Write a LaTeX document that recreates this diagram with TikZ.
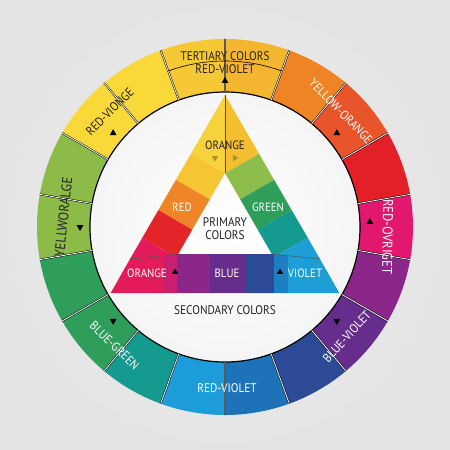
\documentclass[tikz,border=0pt]{standalone}
\usepackage{fontspec}
\setmainfont{PT Sans}[FakeStretch=0.9]
\usetikzlibrary{shapes.geometric}

% wheel colours
\definecolor{bgLight}{HTML}{F3F3F3}
\definecolor{bgDark}{HTML}{E4E4E4}
\definecolor{wYellowTop}{HTML}{F7C836}
\definecolor{wYellowOrange}{HTML}{F4B530}
\definecolor{wOrange}{HTML}{EF8424}
\definecolor{wRedOrange}{HTML}{E9552A}
\definecolor{wRed}{HTML}{E31F28}
\definecolor{wMagenta}{HTML}{E1186E}
\definecolor{wPurple}{HTML}{8B2788}
\definecolor{wViolet}{HTML}{672D8C}
\definecolor{wNavy}{HTML}{2C4A96}
\definecolor{wBlue}{HTML}{1D72B8}
\definecolor{wSky}{HTML}{1C9DD9}
\definecolor{wTeal}{HTML}{149A8E}
\definecolor{wGreen}{HTML}{2F9E5B}
\definecolor{wLime}{HTML}{8CBB48}
\definecolor{wYellow}{HTML}{F9D83A}
% triangle colours
\definecolor{tYellowA}{HTML}{F6D23C}
\definecolor{tYellowB}{HTML}{F6C533}
\definecolor{tOrange}{HTML}{EE8627}
\definecolor{tRed}{HTML}{E32429}
\definecolor{tPink}{HTML}{E31B5B}
\definecolor{tPinkDark}{HTML}{C81F70}
\definecolor{tGold}{HTML}{F4BE31}
\definecolor{tLime}{HTML}{8DBE4B}
\definecolor{tCyan}{HTML}{1D9FD5}
\definecolor{tBlueMid}{HTML}{1F7DC2}
\definecolor{markOlive}{HTML}{A8922E}
\definecolor{textDark}{HTML}{222222}

\tikzset{
  divider/.style={
    draw=black,
    double=white,
    line width=0.5pt,
    double distance=0.8pt
  },
  triline/.style={
    draw=black!70,
    line width=0.5pt
  },
  ringlabel/.style={
    font=\fontsize{12.5}{13}\selectfont,
    inner sep=0pt
  },
  trilabel/.style={
    font=\fontsize{12}{13}\selectfont,
    inner sep=0pt,
    align=center
  },
  marker/.style={
    regular polygon,
    regular polygon sides=3,
    fill=black,
    inner sep=0pt,
    minimum size=8pt
  }
}

\begin{document}
\begin{tikzpicture}[x=1pt, y=1pt]
        % background and inner disc
        \shade[inner color=bgLight, outer color=bgDark] (-225,-223) rectangle (225,227);

        % ring segments
        \fill[wYellowTop]    (90:135) arc[start angle=90, end angle=110, radius=135pt] -- (110:188) arc[start angle=110, end angle=90, radius=188pt] -- cycle;
        \fill[wYellowOrange] (70:135) arc[start angle=70, end angle=90, radius=135pt] -- (90:188) arc[start angle=90, end angle=70, radius=188pt] -- cycle;
        \fill[wOrange]       (50:135) arc[start angle=50, end angle=70, radius=135pt] -- (70:188) arc[start angle=70, end angle=50, radius=188pt] -- cycle;
        \fill[wRedOrange]    (30:135) arc[start angle=30, end angle=50, radius=135pt] -- (50:188) arc[start angle=50, end angle=30, radius=188pt] -- cycle;
        \fill[wRed]          (10:135) arc[start angle=10, end angle=30, radius=135pt] -- (30:188) arc[start angle=30, end angle=10, radius=188pt] -- cycle;
        \fill[wMagenta]      (-10:135) arc[start angle=-10, end angle=10, radius=135pt] -- (10:188) arc[start angle=10, end angle=-10, radius=188pt] -- cycle;
        \fill[wPurple]       (-30:135) arc[start angle=-30, end angle=-10, radius=135pt] -- (-10:188) arc[start angle=-10, end angle=-30, radius=188pt] -- cycle;
        \fill[wViolet]       (-50:135) arc[start angle=-50, end angle=-30, radius=135pt] -- (-30:188) arc[start angle=-30, end angle=-50, radius=188pt] -- cycle;
        \fill[wNavy]         (-70:135) arc[start angle=-70, end angle=-50, radius=135pt] -- (-50:188) arc[start angle=-50, end angle=-70, radius=188pt] -- cycle;
        \fill[wBlue]         (-90:135) arc[start angle=-90, end angle=-70, radius=135pt] -- (-70:188) arc[start angle=-70, end angle=-90, radius=188pt] -- cycle;
        \fill[wSky]          (-110:135) arc[start angle=-110, end angle=-90, radius=135pt] -- (-90:188) arc[start angle=-90, end angle=-110, radius=188pt] -- cycle;
        \fill[wTeal]         (-130:135) arc[start angle=-130, end angle=-110, radius=135pt] -- (-110:188) arc[start angle=-110, end angle=-130, radius=188pt] -- cycle;
        \fill[wGreen]        (-170:135) arc[start angle=-170, end angle=-130, radius=135pt] -- (-130:188) arc[start angle=-130, end angle=-170, radius=188pt] -- cycle;
        \fill[wLime]         (150:135) arc[start angle=150, end angle=190, radius=135pt] -- (190:188) arc[start angle=190, end angle=150, radius=188pt] -- cycle;
        \fill[wYellow]       (110:135) arc[start angle=110, end angle=150, radius=135pt] -- (150:188) arc[start angle=150, end angle=110, radius=188pt] -- cycle;

        % inner disc
        \shade[inner color=white, outer color=black!4] (0,0) circle[radius=135pt];
        \draw[line width=1.2pt] (0,0) circle[radius=135pt];

        % dividers between segments
        \draw[divider] (10:135) -- (10:188)   (30:135) -- (30:188)   (50:135) -- (50:188)
                       (70:135) -- (70:188)   (90:135) -- (90:188)   (110:135) -- (110:188)
                       (130:135) -- (130:188) (150:135) -- (150:188) (170:135) -- (170:188)
                       (190:135) -- (190:188) (210:135) -- (210:188) (230:135) -- (230:188)
                       (250:135) -- (250:188) (270:135) -- (270:188) (290:135) -- (290:188)
                       (310:135) -- (310:188) (330:135) -- (330:188) (350:135) -- (350:188);
        \draw[line width=0.6pt] (70:166) arc[start angle=70, end angle=110, radius=166pt];

        % triangle corners
        \coordinate (A)  at (90:132);
        \coordinate (BL) at (210:132);
        \coordinate (BR) at (330:132);
        \coordinate (a)  at (90:54);
        \coordinate (b)  at (210:54);
        \coordinate (c)  at (330:54);
        \coordinate (Pl) at (-95,-32);
        \coordinate (Pr) at (95,-32);

        % left arm
        \begin{scope}
          \clip (A) -- (a) -- (b) -- (Pl) -- cycle;
          \begin{scope}[shift={(A)}, rotate=240]
            \fill[tYellowA] (-10,-90) rectangle (68,90);
            \fill[tYellowB] (68,-90) rectangle (98,90);
            \fill[tOrange]  (98,-90) rectangle (133,90);
            \fill[tRed]     (133,-90) rectangle (165,90);
            \fill[tPink]    (165,-90) rectangle (240,90);
          \end{scope}
        \end{scope}

        % right arm
        \begin{scope}
          \clip (A) -- (a) -- (c) -- (Pr) -- cycle;
          \begin{scope}[shift={(A)}, rotate=300]
            \fill[tGold]  (-10,-90) rectangle (68,90);
            \fill[tLime]  (68,-90) rectangle (98,90);
            \fill[wGreen] (98,-90) rectangle (133,90);
            \fill[wTeal]  (133,-90) rectangle (165,90);
            \fill[tCyan]  (165,-90) rectangle (240,90);
          \end{scope}
        \end{scope}

        % base of the triangle
        \begin{scope}
          \clip (Pl) -- (b) -- (c) -- (Pr) -- (BR) -- (BL) -- cycle;
          \fill[tPink]     (-120,-70) rectangle (-62,-20);
          \fill[tPinkDark] (-62,-70) rectangle (-48,-20);
          \fill[wPurple]   (-48,-70) rectangle (-15,-20);
          \fill[wViolet]   (-15,-70) rectangle (20,-20);
          \fill[wNavy]     (20,-70) rectangle (49,-20);
          \fill[tBlueMid]  (49,-70) rectangle (63,-20);
          \fill[tCyan]     (63,-70) rectangle (120,-20);
        \end{scope}

        \draw[triline] (A) -- (a);
        \draw[triline] (b) -- (Pl);
        \draw[triline] (c) -- (Pr);

        % ring labels
        \node[ringlabel, text=textDark] (tertiary) at (0,171) {TERTIARY COLORS};
        \node[ringlabel, text=textDark] (topRV)    at (0,158) {RED-VIOLET};
        \node[ringlabel, text=white, rotate=-46] (yo)  at (45:164) {YELLOW-ORANGE};
        \node[ringlabel, text=textDark, rotate=45] (rvo) at (135:163) {RED-VIONGE};
        \node[ringlabel, text=textDark, rotate=84, font=\fontsize{14}{14}\selectfont] (yog) at (176.5:162) {YELLWORALGE};
        \node[ringlabel, text=white, rotate=-91, font=\fontsize{14}{14}\selectfont] (rov) at (-3.5:163) {RED-OVRIGET};
        \node[ringlabel, text=white, rotate=48] (bv) at (-42:164) {BLUE-VIOLET};
        \node[ringlabel, text=white] (botRV) at (2,-161) {RED-VIOLET};
        \node[ringlabel, text=white, rotate=-44] (bg) at (-133:162) {BLUE-GREEN};
        \node[ringlabel, text=textDark] (secondary) at (0,-83) {SECONDARY COLORS};

        % triangle labels
        \node[trilabel, text=textDark] (orangeTop) at (0,82) {ORANGE};
        \node[trilabel, text=white] (red)     at (-43,20) {RED};
        \node[trilabel, text=white] (green)   at (43,20) {GREEN};
        \node[trilabel, text=textDark, font=\fontsize{12.5}{13}\selectfont] (primary) at (0,-2) {PRIMARY\\COLORS};
        \node[trilabel, text=white] (orangeBase) at (-78,-46) {ORANGE};
        \node[trilabel, text=white] (blue)       at (2,-46) {BLUE};
        \node[trilabel, text=white] (violet)     at (80,-46) {VIOLET};

        % markers
        \node[marker] (mk90)   at (90:146) {};
        \node[marker] (mk40)   at (40:146) {};
        \node[marker] (mk140)  at (140:146) {};
        \node[marker] (mk0)    at (2:145) {};
        \node[marker, rotate=180] (mk180)  at (180:145) {};
        \node[marker, rotate=180] (mkm40)  at (-40:146) {};
        \node[marker, rotate=180] (mkm140) at (-140:146) {};
        \node[marker, minimum size=7pt] (mkL) at (-50,-45) {};
        \node[marker, minimum size=7pt] (mkR) at (55,-45) {};
        \node[marker, fill=markOlive, rotate=180, minimum size=7pt] (mkOl) at (-10,69) {};
        \node[marker, fill=markOlive, rotate=-90, minimum size=7pt] (mkOr) at (10,69) {};
\end{tikzpicture}
\end{document}
